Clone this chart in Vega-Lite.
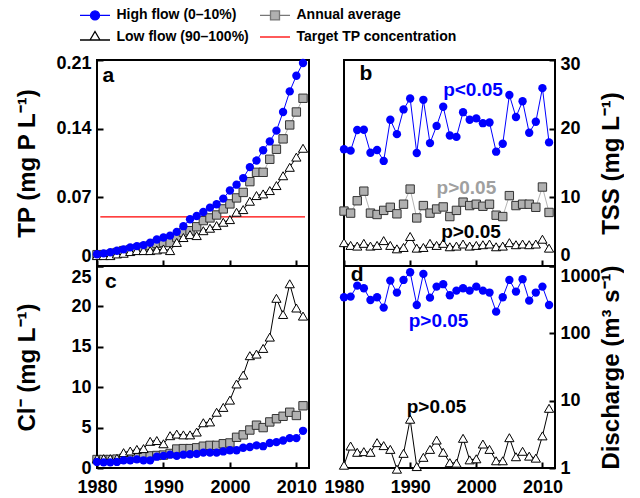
{
"$schema":"https://vega.github.io/schema/vega-lite/v6.json",
"background":"white",
"padding":{"left":14,"top":8,"right":0,"bottom":0},
"config":{
 "font":"Liberation Sans",
 "view":{"stroke":"black","strokeWidth":2},
 "axis":{"domain":false,"grid":false,"ticks":true,"tickSize":-6,"tickWidth":2,"tickColor":"black","labelFont":"Liberation Sans","labelFontSize":18,"labelFontWeight":"bold","labelColor":"black","labelPadding":12,"titleFont":"Liberation Sans","titleFontSize":24,"titleFontWeight":"bold","titleColor":"black"},
 "legend":{"title":null,"labelFont":"Liberation Sans","labelFontSize":14,"labelFontWeight":"bold","labelColor":"black","labelLimit":400,"symbolSize":100,"symbolStrokeWidth":1.3,"symbolOpacity":1,"labelOffset":14.5,"columnPadding":8,"rowPadding":5,"padding":0},
 "text":{"font":"Liberation Sans","fontWeight":"bold"}
},
"datasets":{
 "d":[
 {"year":1980,"tp_h":0.012,"tp_a":0.0116,"tp_l":0.0106,"tss_h":17.0,"tss_a":8.0,"tss_l":3.4,"cl_h":0.75,"cl_a":1.05,"cl_l":1.16,"q_h":344,"q_l":1.1},
 {"year":1981,"tp_h":0.0129,"tp_a":0.0116,"tp_l":0.0106,"tss_h":16.8,"tss_a":7.7,"tss_l":3.0,"cl_h":0.7,"cl_a":1.05,"cl_l":1.16,"q_h":351,"q_l":2.12},
 {"year":1982,"tp_h":0.014,"tp_a":0.0116,"tp_l":0.0106,"tss_h":19.8,"tss_a":9.5,"tss_l":2.9,"cl_h":0.7,"cl_a":1.05,"cl_l":1.16,"q_h":511,"q_l":1.71},
 {"year":1983,"tp_h":0.0155,"tp_a":0.0137,"tp_l":0.0123,"tss_h":19.85,"tss_a":10.9,"tss_l":3.3,"cl_h":0.75,"cl_a":1.1,"cl_l":1.2,"q_h":468,"q_l":1.75},
 {"year":1984,"tp_h":0.017,"tp_a":0.0157,"tp_l":0.013,"tss_h":16.5,"tss_a":7.7,"tss_l":2.9,"cl_h":0.95,"cl_a":1.2,"cl_l":1.9,"q_h":313,"q_l":1.71},
 {"year":1985,"tp_h":0.019,"tp_a":0.0164,"tp_l":0.0147,"tss_h":16.9,"tss_a":7.5,"tss_l":3.0,"cl_h":0.95,"cl_a":1.3,"cl_l":2.1,"q_h":344,"q_l":2.38},
 {"year":1986,"tp_h":0.0203,"tp_a":0.0174,"tp_l":0.0157,"tss_h":15.3,"tss_a":8.1,"tss_l":3.7,"cl_h":1.07,"cl_a":1.3,"cl_l":2.3,"q_h":241,"q_l":2.15},
 {"year":1987,"tp_h":0.0213,"tp_a":0.019,"tp_l":0.0157,"tss_h":21.3,"tss_a":8.55,"tss_l":3.0,"cl_h":0.95,"cl_a":1.4,"cl_l":2.4,"q_h":607,"q_l":1.89},
 {"year":1988,"tp_h":0.0237,"tp_a":0.0208,"tp_l":0.0157,"tss_h":19.2,"tss_a":7.6,"tss_l":2.5,"cl_h":0.95,"cl_a":1.5,"cl_l":3.3,"q_h":403,"q_l":0.96},
 {"year":1989,"tp_h":0.027,"tp_a":0.023,"tp_l":0.0164,"tss_h":22.8,"tss_a":9.0,"tss_l":2.7,"cl_h":1.4,"cl_a":1.55,"cl_l":3.4,"q_h":621,"q_l":1.65},
 {"year":1990,"tp_h":0.029,"tp_a":0.024,"tp_l":0.0174,"tss_h":24.4,"tss_a":11.2,"tss_l":4.3,"cl_h":1.5,"cl_a":1.6,"cl_l":3.0,"q_h":808,"q_l":5.3},
 {"year":1991,"tp_h":0.031,"tp_a":0.024,"tp_l":0.0157,"tss_h":16.45,"tss_a":7.0,"tss_l":2.6,"cl_h":1.65,"cl_a":1.8,"cl_l":4.0,"q_h":264,"q_l":1.05},
 {"year":1992,"tp_h":0.0348,"tp_a":0.029,"tp_l":0.024,"tss_h":24.2,"tss_a":8.8,"tss_l":2.7,"cl_h":1.5,"cl_a":2.35,"cl_l":4.2,"q_h":763,"q_l":1.44},
 {"year":1993,"tp_h":0.0406,"tp_a":0.0344,"tp_l":0.029,"tss_h":17.9,"tss_a":7.7,"tss_l":3.3,"cl_h":1.65,"cl_a":2.4,"cl_l":4.1,"q_h":339,"q_l":1.89},
 {"year":1994,"tp_h":0.0477,"tp_a":0.036,"tp_l":0.032,"tss_h":20.4,"tss_a":8.3,"tss_l":3.0,"cl_h":1.7,"cl_a":2.4,"cl_l":4.1,"q_h":494,"q_l":2.6},
 {"year":1995,"tp_h":0.051,"tp_a":0.04,"tp_l":0.031,"tss_h":23.2,"tss_a":8.6,"tss_l":3.3,"cl_h":1.75,"cl_a":2.5,"cl_l":4.45,"q_h":537,"q_l":1.71},
 {"year":1996,"tp_h":0.055,"tp_a":0.0463,"tp_l":0.036,"tss_h":19.0,"tss_a":7.2,"tss_l":2.8,"cl_h":1.9,"cl_a":2.7,"cl_l":5.6,"q_h":368,"q_l":1.2},
 {"year":1997,"tp_h":0.0595,"tp_a":0.049,"tp_l":0.0385,"tss_h":18.8,"tss_a":8.1,"tss_l":2.9,"cl_h":1.9,"cl_a":2.8,"cl_l":5.7,"q_h":431,"q_l":1.18},
 {"year":1998,"tp_h":0.063,"tp_a":0.052,"tp_l":0.0412,"tss_h":22.4,"tss_a":9.3,"tss_l":3.2,"cl_h":1.9,"cl_a":2.8,"cl_l":6.9,"q_h":468,"q_l":2.76},
 {"year":1999,"tp_h":0.0687,"tp_a":0.0582,"tp_l":0.0446,"tss_h":21.3,"tss_a":8.8,"tss_l":2.9,"cl_h":2.05,"cl_a":3.0,"cl_l":7.5,"q_h":431,"q_l":1.32},
 {"year":2000,"tp_h":0.077,"tp_a":0.0633,"tp_l":0.0473,"tss_h":21.5,"tss_a":9.0,"tss_l":3.0,"cl_h":2.2,"cl_a":3.1,"cl_l":8.4,"q_h":494,"q_l":1.37},
 {"year":2001,"tp_h":0.0829,"tp_a":0.0694,"tp_l":0.0548,"tss_h":20.8,"tss_a":8.7,"tss_l":3.1,"cl_h":2.2,"cl_a":3.8,"cl_l":10.4,"q_h":431,"q_l":2.27},
 {"year":2002,"tp_h":0.0896,"tp_a":0.075,"tp_l":0.0575,"tss_h":20.9,"tss_a":9.0,"tss_l":3.2,"cl_h":2.5,"cl_a":4.1,"cl_l":11.5,"q_h":403,"q_l":1.89},
 {"year":2003,"tp_h":0.1008,"tp_a":0.086,"tp_l":0.066,"tss_h":16.65,"tss_a":7.4,"tss_l":2.8,"cl_h":2.6,"cl_a":4.7,"cl_l":13.9,"q_h":210,"q_l":1.28},
 {"year":2004,"tp_h":0.1075,"tp_a":0.0955,"tp_l":0.0718,"tss_h":17.8,"tss_a":7.2,"tss_l":2.9,"cl_h":2.8,"cl_a":5.3,"cl_l":14.1,"q_h":344,"q_l":1.28},
 {"year":2005,"tp_h":0.118,"tp_a":0.0955,"tp_l":0.0735,"tss_h":24.9,"tss_a":10.25,"tss_l":3.4,"cl_h":2.7,"cl_a":5.0,"cl_l":14.8,"q_h":621,"q_l":2.82},
 {"year":2006,"tp_h":0.127,"tp_a":0.1088,"tp_l":0.0769,"tss_h":21.7,"tss_a":8.8,"tss_l":3.1,"cl_h":3.1,"cl_a":5.7,"cl_l":16.2,"q_h":417,"q_l":1.47},
 {"year":2007,"tp_h":0.138,"tp_a":0.119,"tp_l":0.082,"tss_h":24.0,"tss_a":9.0,"tss_l":3.2,"cl_h":3.2,"cl_a":6.1,"cl_l":21.0,"q_h":637,"q_l":1.77},
 {"year":2008,"tp_h":0.157,"tp_a":0.1296,"tp_l":0.092,"tss_h":19.4,"tss_a":9.0,"tss_l":3.1,"cl_h":3.4,"cl_a":6.4,"cl_l":19.0,"q_h":306,"q_l":1.5},
 {"year":2009,"tp_h":0.178,"tp_a":0.1438,"tp_l":0.1006,"tss_h":21.0,"tss_a":8.55,"tss_l":3.2,"cl_h":3.7,"cl_a":6.9,"cl_l":22.8,"q_h":403,"q_l":1.4},
 {"year":2010,"tp_h":0.194,"tp_a":0.157,"tp_l":0.111,"tss_h":25.9,"tss_a":11.5,"tss_l":3.9,"cl_h":3.7,"cl_a":6.5,"cl_l":19.8,"q_h":494,"q_l":3.0},
 {"year":2011,"tp_h":0.207,"tp_a":0.171,"tp_l":0.12,"tss_h":18.0,"tss_a":7.8,"tss_l":2.6,"cl_h":4.6,"cl_a":7.7,"cl_l":18.8,"q_h":264,"q_l":7.7}
 ],
 "legend":[{"series":"High flow (0–10%)"},{"series":"Low flow (90–100%)"},{"series":"Annual average"},{"series":"Target TP concentration"}]
},
"columns":2,
"spacing":{"row":0,"column":35},
"bounds":"flush",
"concat":[
 {"width":212,"height":206,
  "layer":[
   {"data":{"name":"d"},"mark":{"type":"line","color":"#b4b4b4","strokeWidth":1},"encoding":{"x":{"field":"year","type":"quantitative","scale":{"domain":[1980,2011.9],"nice":false,"zero":false},"axis":{"values":[1980,1990,2000,2010],"labels":false,"title":null},"title":null},"y":{"field":"tp_a","type":"quantitative","scale":{"domain":[0,0.21],"nice":false,"zero":false},"title":"TP (mg P L⁻¹)","axis":{"orient":"left","values":[0,0.07,0.14,0.21],"labelExpr":"datum.value == 0 ? '0' : format(datum.value, '.2f')","labelOffset":{"condition":[{"test":"datum.value == 0","value":-10},{"test":"datum.value > 0.2","value":3}],"value":0},"minExtent":50,"maxExtent":50,"titlePadding":8}}}},
   {"data":{"values":[{}]},"mark":{"type":"rule","color":"red","strokeWidth":1.2},"encoding":{"x":{"datum":1980.5,"type":"quantitative","title":null},"x2":{"datum":2011.3},"y":{"datum":0.05,"type":"quantitative","title":"TP (mg P L⁻¹)"}}},
   {"data":{"name":"d"},"mark":{"type":"line","color":"black","strokeWidth":1},"encoding":{"x":{"field":"year","type":"quantitative","title":null},"y":{"field":"tp_l","type":"quantitative","title":"TP (mg P L⁻¹)"}}},
   {"data":{"name":"d"},"mark":{"type":"line","color":"blue","strokeWidth":1},"encoding":{"x":{"field":"year","type":"quantitative","title":null},"y":{"field":"tp_h","type":"quantitative","title":"TP (mg P L⁻¹)"}}},
   {"data":{"name":"d"},"mark":{"type":"point","shape":"square","filled":true,"fill":"#b0b0b0","stroke":"#333333","strokeWidth":1,"size":70,"opacity":1},"encoding":{"x":{"field":"year","type":"quantitative","title":null},"y":{"field":"tp_a","type":"quantitative","title":"TP (mg P L⁻¹)"}}},
   {"data":{"name":"d"},"mark":{"type":"point","shape":"triangle-up","filled":true,"fill":"white","stroke":"black","strokeWidth":1,"size":85,"opacity":1},"encoding":{"x":{"field":"year","type":"quantitative","title":null},"y":{"field":"tp_l","type":"quantitative","title":"TP (mg P L⁻¹)"}}},
   {"data":{"name":"d"},"mark":{"type":"point","shape":"circle","filled":true,"color":"blue","size":70,"opacity":1},"encoding":{"x":{"field":"year","type":"quantitative","title":null},"y":{"field":"tp_h","type":"quantitative","title":"TP (mg P L⁻¹)"}}},
   {"data":{"values":[{}]},"mark":{"type":"text","fontSize":21,"fontWeight":"bold","color":"black"},"encoding":{"x":{"datum":1981.7,"type":"quantitative","title":null},"y":{"datum":0.194,"type":"quantitative","title":"TP (mg P L⁻¹)"},"text":{"value":"a"}}},
   {"data":{"name":"legend"},"mark":{"type":"point","filled":true,"opacity":0},"encoding":{
     "shape":{"field":"series","type":"nominal","scale":{"domain":["High flow (0–10%)","Low flow (90–100%)","Annual average","Target TP concentration"],"range":["M-3,0H3M0.9,0A0.9,0.9,0,1,1,-0.9,0A0.9,0.9,0,1,1,0.9,0Z","M-3,0.6H-1M1,0.6H3M0,-1.1L1,0.6L-1,0.6Z","M-3,0H-0.9M0.9,0H3M-0.9,-0.9H0.9V0.9H-0.9Z","M-3,0H3"]},"legend":{"orient":"none","legendX":-9,"legendY":-52,"columns":2,"title":null}},
     "fill":{"field":"series","type":"nominal","scale":{"domain":["High flow (0–10%)","Low flow (90–100%)","Annual average","Target TP concentration"],"range":["blue","white","#b0b0b0","white"]},"legend":{"orient":"none","legendX":-9,"legendY":-52,"columns":2,"title":null}},
     "stroke":{"field":"series","type":"nominal","scale":{"domain":["High flow (0–10%)","Low flow (90–100%)","Annual average","Target TP concentration"],"range":["blue","black","#777777","red"]},"legend":{"orient":"none","legendX":-9,"legendY":-52,"columns":2,"title":null}}
   }}
  ]},
 {"width":211,"height":206,
  "layer":[
   {"data":{"name":"d"},"mark":{"type":"line","color":"#b4b4b4","strokeWidth":1},"encoding":{"x":{"field":"year","type":"quantitative","scale":{"domain":[1980,2011.9],"nice":false,"zero":false},"axis":{"values":[1980,1990,2000,2010],"labels":false,"title":null},"title":null},"y":{"field":"tss_a","type":"quantitative","scale":{"domain":[0,30],"nice":false,"zero":false},"title":"TSS (mg L⁻¹)","axis":{"orient":"right","values":[0,10,20,30],"labelPadding":11,"labelOffset":{"condition":[{"test":"datum.value == 0","value":-11},{"test":"datum.value == 30","value":4}],"value":0},"minExtent":44,"maxExtent":44,"titlePadding":24,"titleAngle":270}}}},
   {"data":{"name":"d"},"mark":{"type":"line","color":"black","strokeWidth":1},"encoding":{"x":{"field":"year","type":"quantitative","title":null},"y":{"field":"tss_l","type":"quantitative","title":"TSS (mg L⁻¹)"}}},
   {"data":{"name":"d"},"mark":{"type":"line","color":"blue","strokeWidth":1},"encoding":{"x":{"field":"year","type":"quantitative","title":null},"y":{"field":"tss_h","type":"quantitative","title":"TSS (mg L⁻¹)"}}},
   {"data":{"name":"d"},"mark":{"type":"point","shape":"square","filled":true,"fill":"#b0b0b0","stroke":"#333333","strokeWidth":1,"size":70,"opacity":1},"encoding":{"x":{"field":"year","type":"quantitative","title":null},"y":{"field":"tss_a","type":"quantitative","title":"TSS (mg L⁻¹)"}}},
   {"data":{"name":"d"},"mark":{"type":"point","shape":"triangle-up","filled":true,"fill":"white","stroke":"black","strokeWidth":1,"size":85,"opacity":1},"encoding":{"x":{"field":"year","type":"quantitative","title":null},"y":{"field":"tss_l","type":"quantitative","title":"TSS (mg L⁻¹)"}}},
   {"data":{"name":"d"},"mark":{"type":"point","shape":"circle","filled":true,"color":"blue","size":70,"opacity":1},"encoding":{"x":{"field":"year","type":"quantitative","title":null},"y":{"field":"tss_h","type":"quantitative","title":"TSS (mg L⁻¹)"}}},
   {"data":{"values":[{}]},"mark":{"type":"text","fontSize":21,"fontWeight":"bold","color":"black"},"encoding":{"x":{"datum":1983.3,"type":"quantitative","title":null},"y":{"datum":28,"type":"quantitative","title":"TSS (mg L⁻¹)"},"text":{"value":"b"}}},
   {"data":{"values":[{}]},"mark":{"type":"text","fontSize":19,"fontWeight":"bold","color":"blue"},"encoding":{"x":{"datum":1999.5,"type":"quantitative","title":null},"y":{"datum":25.6,"type":"quantitative","title":"TSS (mg L⁻¹)"},"text":{"value":"p<0.05"}}},
   {"data":{"values":[{}]},"mark":{"type":"text","fontSize":19,"fontWeight":"bold","color":"#a0a0a0"},"encoding":{"x":{"datum":1998.5,"type":"quantitative","title":null},"y":{"datum":11.4,"type":"quantitative","title":"TSS (mg L⁻¹)"},"text":{"value":"p>0.05"}}},
   {"data":{"values":[{}]},"mark":{"type":"text","fontSize":19,"fontWeight":"bold","color":"black"},"encoding":{"x":{"datum":1999.2,"type":"quantitative","title":null},"y":{"datum":4.9,"type":"quantitative","title":"TSS (mg L⁻¹)"},"text":{"value":"p>0.05"}}}
  ]},
 {"width":212,"height":202,
  "layer":[
   {"data":{"name":"d"},"mark":{"type":"line","color":"#b4b4b4","strokeWidth":1},"encoding":{"x":{"field":"year","type":"quantitative","scale":{"domain":[1980,2011.9],"nice":false,"zero":false},"axis":{"values":[1980,1990,2000,2010],"format":"d","labelFlush":false,"labelPadding":16,"title":null},"title":null},"y":{"field":"cl_a","type":"quantitative","scale":{"domain":[0,25],"nice":false,"zero":false},"title":"Cl⁻ (mg L⁻¹)","axis":{"orient":"left","values":[0,5,10,15,20,25],"labelOffset":{"condition":{"test":"datum.value == 25","value":11},"value":0},"minExtent":50,"maxExtent":50,"titlePadding":8}}}},
   {"data":{"name":"d"},"mark":{"type":"line","color":"black","strokeWidth":1},"encoding":{"x":{"field":"year","type":"quantitative","title":null},"y":{"field":"cl_l","type":"quantitative","title":"Cl⁻ (mg L⁻¹)"}}},
   {"data":{"name":"d"},"mark":{"type":"line","color":"blue","strokeWidth":1},"encoding":{"x":{"field":"year","type":"quantitative","title":null},"y":{"field":"cl_h","type":"quantitative","title":"Cl⁻ (mg L⁻¹)"}}},
   {"data":{"name":"d"},"mark":{"type":"point","shape":"square","filled":true,"fill":"#b0b0b0","stroke":"#333333","strokeWidth":1,"size":70,"opacity":1},"encoding":{"x":{"field":"year","type":"quantitative","title":null},"y":{"field":"cl_a","type":"quantitative","title":"Cl⁻ (mg L⁻¹)"}}},
   {"data":{"name":"d"},"mark":{"type":"point","shape":"triangle-up","filled":true,"fill":"white","stroke":"black","strokeWidth":1,"size":85,"opacity":1},"encoding":{"x":{"field":"year","type":"quantitative","title":null},"y":{"field":"cl_l","type":"quantitative","title":"Cl⁻ (mg L⁻¹)"}}},
   {"data":{"name":"d"},"mark":{"type":"point","shape":"circle","filled":true,"color":"blue","size":70,"opacity":1},"encoding":{"x":{"field":"year","type":"quantitative","title":null},"y":{"field":"cl_h","type":"quantitative","title":"Cl⁻ (mg L⁻¹)"}}},
   {"data":{"values":[{}]},"mark":{"type":"text","fontSize":21,"fontWeight":"bold","color":"black"},"encoding":{"x":{"datum":1982.1,"type":"quantitative","title":null},"y":{"datum":23.0,"type":"quantitative","title":"Cl⁻ (mg L⁻¹)"},"text":{"value":"c"}}}
  ]},
 {"width":211,"height":202,
  "layer":[
   {"data":{"name":"d"},"mark":{"type":"line","color":"black","strokeWidth":1},"encoding":{"x":{"field":"year","type":"quantitative","scale":{"domain":[1980,2011.9],"nice":false,"zero":false},"axis":{"values":[1980,1990,2000,2010],"format":"d","labelFlush":false,"labelPadding":16,"title":null},"title":null},"y":{"field":"q_l","type":"quantitative","scale":{"type":"log","domain":[1,1000],"nice":false,"zero":false},"title":"Discharge (m³ s⁻¹)","axis":{"orient":"right","values":[1,10,100,1000],"format":"d","labelPadding":11,"labelOffset":{"condition":{"test":"datum.value == 1000","value":10},"value":0},"minExtent":44,"maxExtent":44,"titlePadding":24,"titleAngle":270}}}},
   {"data":{"name":"d"},"mark":{"type":"line","color":"blue","strokeWidth":1},"encoding":{"x":{"field":"year","type":"quantitative","title":null},"y":{"field":"q_h","type":"quantitative","title":"Discharge (m³ s⁻¹)"}}},
   {"data":{"name":"d"},"mark":{"type":"point","shape":"triangle-up","filled":true,"fill":"white","stroke":"black","strokeWidth":1,"size":85,"opacity":1},"encoding":{"x":{"field":"year","type":"quantitative","title":null},"y":{"field":"q_l","type":"quantitative","title":"Discharge (m³ s⁻¹)"}}},
   {"data":{"name":"d"},"mark":{"type":"point","shape":"circle","filled":true,"color":"blue","size":70,"opacity":1},"encoding":{"x":{"field":"year","type":"quantitative","title":null},"y":{"field":"q_h","type":"quantitative","title":"Discharge (m³ s⁻¹)"}}},
   {"data":{"values":[{}]},"mark":{"type":"text","fontSize":21,"fontWeight":"bold","color":"black"},"encoding":{"x":{"datum":1982,"type":"quantitative","title":null},"y":{"datum":740,"type":"quantitative","title":"Discharge (m³ s⁻¹)"},"text":{"value":"d"}}},
   {"data":{"values":[{}]},"mark":{"type":"text","fontSize":19,"fontWeight":"bold","color":"blue"},"encoding":{"x":{"datum":1994.3,"type":"quantitative","title":null},"y":{"datum":152,"type":"quantitative","title":"Discharge (m³ s⁻¹)"},"text":{"value":"p>0.05"}}},
   {"data":{"values":[{}]},"mark":{"type":"text","fontSize":19,"fontWeight":"bold","color":"black"},"encoding":{"x":{"datum":1994,"type":"quantitative","title":null},"y":{"datum":8.05,"type":"quantitative","title":"Discharge (m³ s⁻¹)"},"text":{"value":"p>0.05"}}}
  ]}
]
}
